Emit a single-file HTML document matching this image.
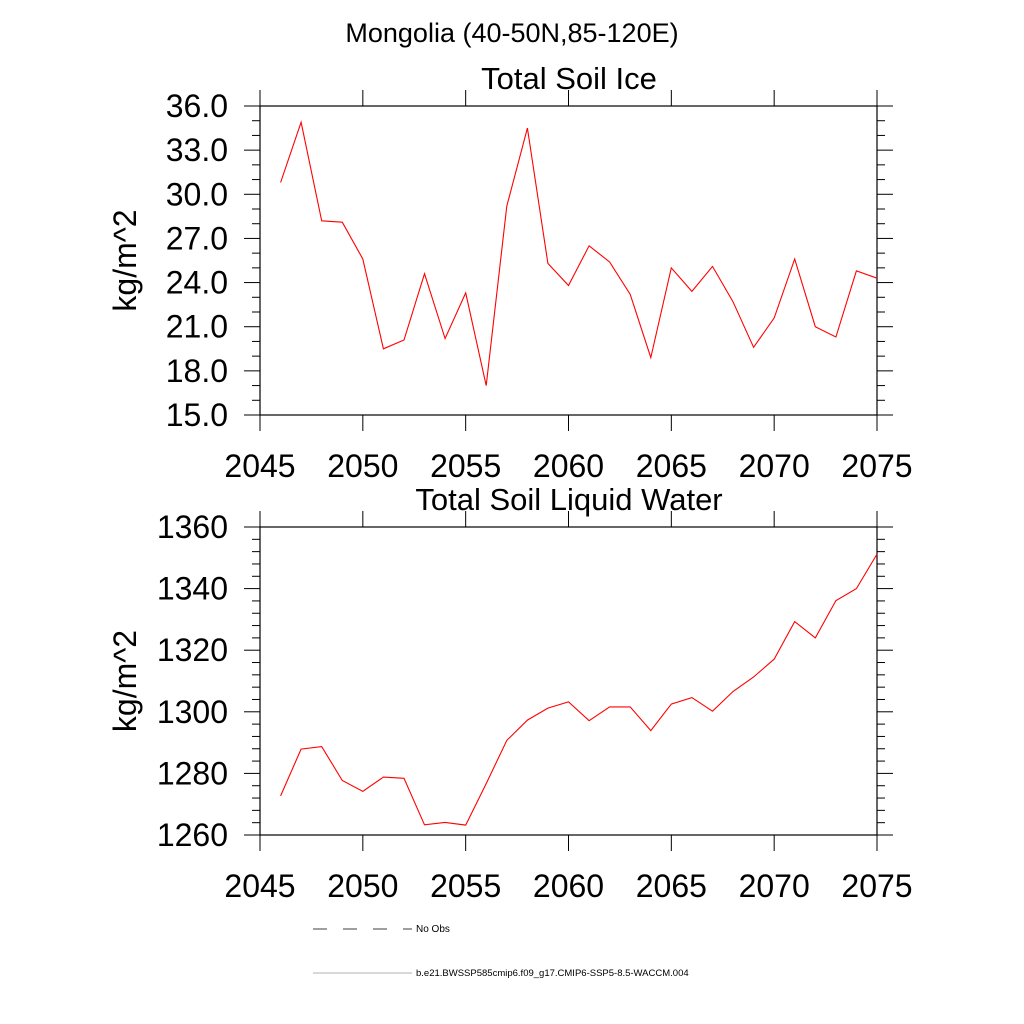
<!DOCTYPE html>
<html><head><meta charset="utf-8"><style>
html,body{margin:0;padding:0;background:#fff;}
svg{display:block;font-family:"Liberation Sans",sans-serif;}
</style></head><body>
<svg id="chart" width="1024" height="1024" viewBox="0 0 1024 1024" xmlns="http://www.w3.org/2000/svg">
<text x="512" y="42" font-size="27" text-anchor="middle">Mongolia (40-50N,85-120E)</text>
<g id="p1"></g>
<g id="p2"></g>
<g>
<line x1="313" y1="929" x2="412" y2="929" stroke="#000" stroke-width="0.8" stroke-dasharray="14,16"/>
<text x="416" y="932" font-size="10">No Obs</text>
<line x1="313" y1="973" x2="412" y2="973" stroke="#999" stroke-width="0.8"/>
<text x="416" y="976" font-size="9.5">b.e21.BWSSP585cmip6.f09_g17.CMIP6-SSP5-8.5-WACCM.004</text>
</g>
</svg>
<script>
const years = [2046,2047,2048,2049,2050,2051,2052,2053,2054,2055,2056,2057,2058,2059,2060,2061,2062,2063,2064,2065,2066,2067,2068,2069,2070,2071,2072,2073,2074,2075];
const iceValues = [30.8,34.9,28.2,28.1,25.6,19.5,20.1,24.6,20.2,23.3,17.0,29.2,34.5,25.3,23.8,26.5,25.4,23.2,18.9,25.0,23.4,25.1,22.7,19.6,21.6,25.6,21.0,20.3,24.8,24.3];
const liquidValues = [1272.7,1287.9,1288.7,1277.7,1274.2,1278.8,1278.4,1263.3,1264.1,1263.2,1276.7,1290.7,1297.3,1301.2,1303.2,1297.1,1301.6,1301.6,1293.9,1302.5,1304.6,1300.2,1306.6,1311.3,1317.1,1329.3,1324.0,1336.1,1340.0,1351.2];
const xTicks = [2045,2050,2055,2060,2065,2070,2075];
const iceTicks = [15,18,21,24,27,30,33,36];
const liquidTicks = [1260,1280,1300,1320,1340,1360];
const NS = "http://www.w3.org/2000/svg";
function mk(parent, tag, attrs, text){
  const e = document.createElementNS(NS, tag);
  for (const k in attrs) e.setAttribute(k, attrs[k]);
  if (text !== undefined) e.textContent = text;
  parent.appendChild(e); return e;
}
function panel(g, top, bottom, ymin, ymax, yTicks, minorStep, decimals, vals, title, key){
  const L=260, R=877;
  const xs = v => L + (v-2045)/30*(R-L);
  const ys = v => bottom - (v-ymin)/(ymax-ymin)*(bottom-top);
  const t = mk(g,'text',{x:569,y:top-17,'font-size':31,'text-anchor':'middle'},title);
  
  
  const fr = mk(g,'rect',{x:L,y:top,width:R-L,height:bottom-top,fill:'none',stroke:'#000','stroke-width':1.2});
  
  
  for (let v=ymin; v<=ymax+1e-6; v+=minorStep){
    const y=ys(v);
    const isMajor = yTicks.some(m=>Math.abs(m-v)<1e-6);
    const len = isMajor?16:8;
    const a = mk(g,'line',{x1:L-len,y1:y,x2:L,y2:y,stroke:'#000','stroke-width':1});
    
    
    const b = mk(g,'line',{x1:R,y1:y,x2:R+len,y2:y,stroke:'#000','stroke-width':1});
    
    
  }
  yTicks.forEach(v=>{
    const tx = mk(g,'text',{x:228,y:ys(v)+11,'font-size':32,'text-anchor':'end'},v.toFixed(decimals));
    
    
  });
  xTicks.forEach(v=>{
    const x=xs(v);
    const a = mk(g,'line',{x1:x,y1:top-16,x2:x,y2:top,stroke:'#000','stroke-width':1});
    
    
    const b = mk(g,'line',{x1:x,y1:bottom,x2:x,y2:bottom+16,stroke:'#000','stroke-width':1});
    
    
    const tx = mk(g,'text',{x:x,y:bottom+62,'font-size':32,'text-anchor':'middle'},String(v));
    
    
  });
  const cy=(top+bottom)/2;
  const yt = mk(g,'text',{x:136,y:cy,'font-size':32,'text-anchor':'middle',transform:'rotate(-90 136 '+cy+')'},'kg/m^2');
  
  
  const pts = years.map((yr,i)=>xs(yr).toFixed(1)+','+ys(vals[i]).toFixed(1)).join(' ');
  const pl = mk(g,'polyline',{points:pts,fill:'none',stroke:'#ff0000','stroke-width':1.1});
  
  
}
panel(document.getElementById('p1'),106,415,15,36,iceTicks,1,1,iceValues,'Total Soil Ice','soil-ice');
panel(document.getElementById('p2'),527,835,1260,1360,liquidTicks,4,0,liquidValues,'Total Soil Liquid Water','soil-liquid');
</script>
</body></html>
